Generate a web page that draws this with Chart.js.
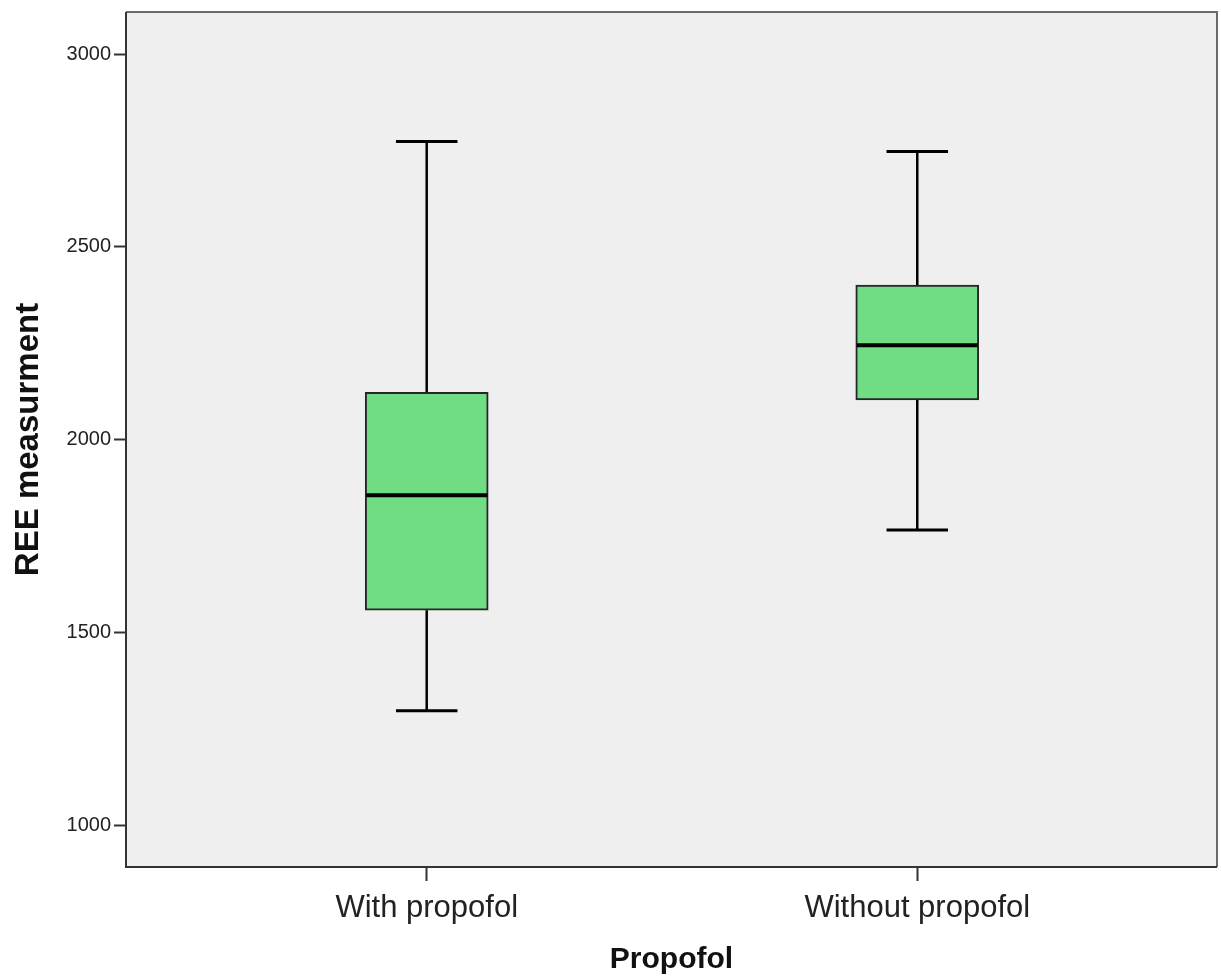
<!DOCTYPE html>
<html>
<head>
<meta charset="utf-8">
<title>REE measurment by Propofol</title>
<script src="https://cdn.jsdelivr.net/npm/chart.js@4/dist/chart.umd.min.js"></script>
<style>
  html, body { margin: 0; padding: 0; background: #ffffff; }
  #wrap { width: 1221px; height: 979px; position: relative; }
</style>
</head>
<body>
<div id="wrap"><canvas id="chart"></canvas></div>
<script>
// Box plot summary per group
const categories  = ['With propofol', 'Without propofol'];
const whiskerLow  = [1297, 1766];
const quartile1   = [1558, 2103];
const medians     = [1856, 2245];
const quartile3   = [2123, 2401];
const whiskerHigh = [2773, 2747];
const yTickValues = [1000, 1500, 2000, 2500, 3000];

const FONT = '"Liberation Sans", Arial, Helvetica, sans-serif';

// Light grey plot panel behind the boxes
const panelBackground = {
  id: 'panelBackground',
  beforeDraw(chart) {
    const { ctx, chartArea: a } = chart;
    ctx.save();
    ctx.fillStyle = '#efefef';
    ctx.fillRect(a.left, a.top, a.right - a.left, a.bottom - a.top);
    ctx.restore();
  }
};

// Frame round the plot panel
const panelFrame = {
  id: 'panelFrame',
  afterDraw(chart) {
    const { ctx, chartArea: a } = chart;
    ctx.save();
    ctx.lineWidth = 2;
    ctx.strokeStyle = '#6a6a6a';
    ctx.beginPath();
    ctx.moveTo(a.left, a.top);
    ctx.lineTo(a.right, a.top);
    ctx.lineTo(a.right, a.bottom);
    ctx.stroke();
    ctx.strokeStyle = '#333333';
    ctx.beginPath();
    ctx.moveTo(a.left, a.top);
    ctx.lineTo(a.left, a.bottom);
    ctx.lineTo(a.right, a.bottom);
    ctx.stroke();
    ctx.restore();
  }
};

// Whiskers, caps and median lines, placed through the chart's scales
const boxExtras = {
  id: 'boxExtras',
  afterDatasetsDraw(chart) {
    const { ctx, scales: { x, y } } = chart;
    const meta = chart.getDatasetMeta(0);
    ctx.save();
    ctx.strokeStyle = '#000000';
    ctx.lineCap = 'butt';
    categories.forEach((c, i) => {
      const cx = x.getPixelForValue(i);
      const bar = meta.data[i];
      const half = bar.width / 2;
      const capHalf = bar.width / 4;
      const pLow = y.getPixelForValue(whiskerLow[i]);
      const pQ1 = y.getPixelForValue(quartile1[i]);
      const pMed = y.getPixelForValue(medians[i]);
      const pQ3 = y.getPixelForValue(quartile3[i]);
      const pHigh = y.getPixelForValue(whiskerHigh[i]);

      // whisker stems
      ctx.lineWidth = 2.5;
      ctx.beginPath();
      ctx.moveTo(cx, pQ3);
      ctx.lineTo(cx, pHigh);
      ctx.moveTo(cx, pQ1);
      ctx.lineTo(cx, pLow);
      ctx.stroke();

      // whisker caps
      ctx.lineWidth = 3;
      ctx.beginPath();
      ctx.moveTo(cx - capHalf, pHigh);
      ctx.lineTo(cx + capHalf, pHigh);
      ctx.moveTo(cx - capHalf, pLow);
      ctx.lineTo(cx + capHalf, pLow);
      ctx.stroke();

      // median
      ctx.lineWidth = 4;
      ctx.beginPath();
      ctx.moveTo(cx - half + 1, pMed);
      ctx.lineTo(cx + half - 1, pMed);
      ctx.stroke();
    });
    ctx.restore();
  }
};

new Chart(document.getElementById('chart'), {
  type: 'bar',
  data: {
    datasets: [{
      label: 'REE measurment',
      data: categories.map((c, i) => ({ x: i, y: [quartile1[i], quartile3[i]] })),
      backgroundColor: '#70dc84',
      borderColor: '#262626',
      borderWidth: 2,
      borderSkipped: false,
      barThickness: 123
    }]
  },
  options: {
    responsive: true,
    maintainAspectRatio: false,
    animation: false,
    layout: { padding: { left: 0, top: 12, right: 4, bottom: 0 } },
    plugins: {
      legend: { display: false },
      tooltip: { enabled: false }
    },
    scales: {
      x: {
        type: 'linear',
        offset: false,
        min: -0.613,
        max: 1.611,
        afterBuildTicks(scale) {
          scale.ticks = categories.map((c, i) => ({ value: i }));
        },
        afterFit(scale) {
          scale.height = 112;
          scale.paddingLeft = 0;
          scale.paddingRight = 0;
        },
        grid: {
          offset: false,
          drawOnChartArea: false,
          drawTicks: true,
          tickLength: 14,
          tickWidth: 2,
          tickColor: '#333333'
        },
        border: { display: false },
        ticks: {
          autoSkip: false,
          maxRotation: 0,
          padding: 9,
          color: '#222222',
          font: { family: FONT, size: 31 },
          callback: (v) => categories[v] ?? ''
        },
        title: {
          display: true,
          text: 'Propofol',
          color: '#111111',
          font: { family: FONT, size: 30, weight: 'bold' },
          padding: { top: 0, bottom: 1 }
        }
      },
      y: {
        type: 'linear',
        min: 892,
        max: 3109,
        afterBuildTicks(scale) {
          scale.ticks = yTickValues.map(v => ({ value: v }));
        },
        afterFit(scale) {
          scale.width = 126;
          scale.paddingTop = 0;
          scale.paddingBottom = 0;
        },
        grid: {
          drawOnChartArea: false,
          drawTicks: true,
          tickLength: 12,
          tickWidth: 2,
          tickColor: '#333333'
        },
        border: { display: false },
        ticks: {
          padding: 3,
          color: '#222222',
          font: { family: FONT, size: 20 },
          callback: (v) => String(v)
        },
        title: {
          display: true,
          text: 'REE measurment',
          color: '#111111',
          font: { family: FONT, size: 33, weight: 'bold' },
          padding: { top: 9, bottom: 0 }
        }
      }
    }
  },
  plugins: [panelBackground, boxExtras, panelFrame]
});
</script>
</body>
</html>
